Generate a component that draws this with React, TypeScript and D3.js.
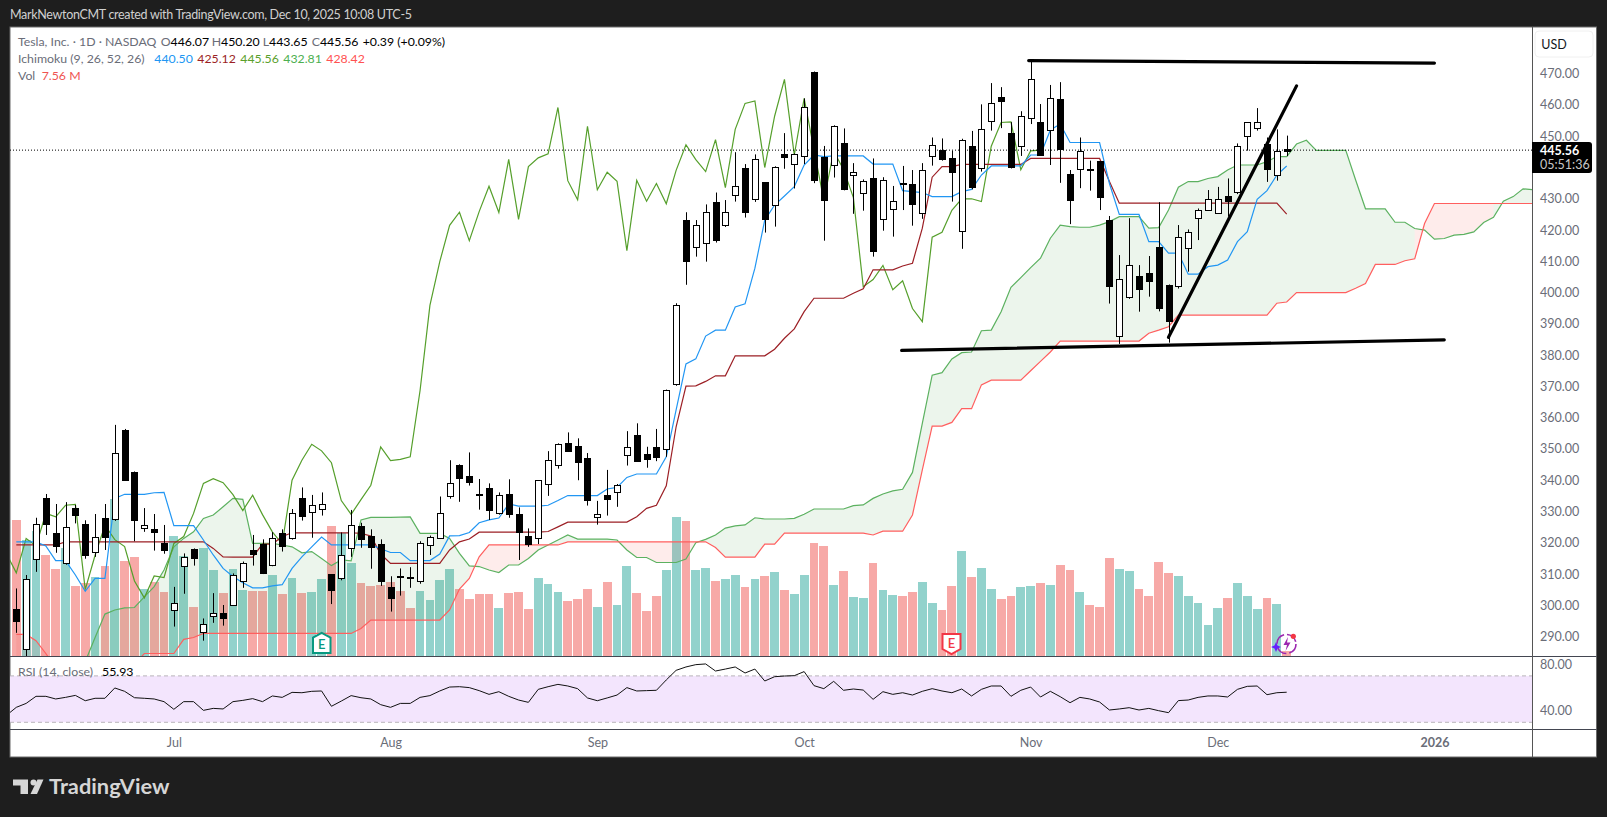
import * as d3 from "d3";
import { useEffect, useRef } from "react";

const W = 1607;
const H = 817;
const FONT = "Lato, 'Noto Sans', sans-serif";

// daily bars, Tesla, last one is Dec 10 2025
const opens = [
  298.7, 286, 314.7, 334.3, 323.1, 313.6, 331.1, 326, 317.2, 327.9,
  327.5, 356.1, 342.6, 324.5, 324.3, 319.8, 298.4, 312.4, 318, 291.3,
  296.8, 297.4, 300, 307.7, 317.7, 319.6, 312.8, 323, 321.4, 334.2,
  329.7, 330.7, 310, 308.6, 318.2, 325.3, 322.2, 319.5, 306, 309.5,
  309, 307.5, 319.5, 321.4, 334.8, 344.8, 341.2, 335.5, 337.4, 329.4,
  335.5, 329.1, 322.2, 321.4, 338.7, 344.8, 351.8, 350.8, 347, 328.1,
  335.2, 336.1, 348, 354.5, 348.4, 350.6, 349.9, 370.7, 423.1, 414.5,
  415.8, 428.9, 421.8, 431, 439.7, 429.8, 435.3, 428.2, 444.2, 441.3,
  443.6, 470.4, 443.3, 440.7, 447.7, 437.5, 431.7, 436.6, 423.4, 426.6,
  435, 434.7, 425.4, 443.9, 445.5, 443.2, 419.9, 446.8, 439.7, 454.8,
  462.5, 450.9, 446.7, 455.6, 454.4, 451.9, 461.8, 437.8, 439.4, 439.5,
  442, 423.1, 386, 398.5, 405.2, 406.2, 414.5, 402.3, 401.9, 414.2,
  423.7, 426.6, 425.4, 430.8, 432, 450, 452.8, 447.4, 437.5, 446.07,
];
const highs = [
  305.4, 309.7, 328, 335.6, 332.4, 333, 332.1, 327.2, 329.2, 332.4,
  357.7, 356.4, 342.8, 331.1, 329.2, 325.7, 305.9, 316.6, 318.2, 295.8,
  303.9, 300.1, 310.2, 314, 322.5, 321.1, 323.4, 324.3, 330.8, 337.7,
  335.3, 336.1, 310, 323.3, 330.5, 326.4, 324.3, 321.1, 309.3, 311.8,
  312.2, 320.5, 322.3, 334.8, 346.4, 345.1, 348.9, 340.4, 339, 336.1,
  340.3, 331.3, 324.6, 340, 349.3, 351.8, 355.3, 353.4, 348.7, 333.4,
  343.3, 338.8, 355.7, 358.2, 350.7, 356.4, 369, 396.6, 425.7, 423.2,
  428.2, 432, 429.6, 444.9, 441.1, 444.2, 435.3, 440.4, 451, 444.5,
  462.1, 470.7, 446.9, 453.5, 452.5, 441.4, 436.2, 442.9, 436.9, 434.1,
  440.5, 439.2, 441.4, 449.6, 449.3, 445.4, 449.2, 451.7, 460.2, 467,
  465.7, 454.5, 458, 474, 460.3, 466.4, 467.3, 439.2, 449.6, 442.2,
  442, 424.5, 412, 423.8, 408.8, 411.7, 428.9, 402.6, 421.6, 420.2,
  426.9, 432.8, 433.8, 436.5, 447.7, 454.4, 459, 449.6, 452.2, 450.2,
];
const lows = [
  291.2, 283.5, 310.7, 322.5, 316.8, 313, 326.2, 314.9, 315.5, 317.7,
  327, 340, 320.5, 323.5, 317.5, 316.5, 293.2, 303.7, 312.7, 288.7,
  294.4, 293.5, 300, 305.6, 312.7, 310, 312.5, 317.2, 321, 327.1,
  321.6, 328.7, 300.4, 308, 315.5, 318.4, 311.7, 306.2, 298, 303.1,
  305.6, 306.9, 316.1, 321.2, 334.1, 333.1, 338.3, 330.6, 327.3, 329,
  328, 314.5, 318.7, 319.6, 335, 343.7, 349.1, 340, 331.9, 325.8,
  328.7, 331.5, 344.7, 346, 344, 346.1, 347.5, 370.2, 402.5, 411.5,
  409.9, 416, 421, 429.1, 424, 429, 419.2, 421.1, 439.6, 433.3,
  441.1, 435, 416.6, 436.8, 432.7, 425.2, 426.2, 411.5, 419.8, 417.9,
  426.4, 421.4, 423.6, 440.6, 442.2, 429.1, 414, 433, 438.7, 451.8,
  452.6, 439.7, 443.7, 453.9, 443.7, 440.8, 435.1, 421.9, 433.4, 432.6,
  426.4, 396.5, 383.6, 398, 393.9, 398.7, 394, 384, 401.3, 406.7,
  416.8, 426.2, 425.2, 424.3, 431.5, 445.4, 451.8, 435.4, 435.8, 443.65,
];
const closes = [
  294.8, 308.3, 325.9, 326, 318.8, 325.2, 329, 316.2, 322, 321.9,
  348.6, 340.2, 327.4, 325.6, 323.2, 317.5, 300.6, 315.3, 315.2, 293.9,
  297.7, 295.7, 309.6, 313.4, 316.5, 310.4, 321.4, 319, 329.4, 328.3,
  332, 332.3, 305, 316, 325.6, 321, 318.8, 307.8, 302.4, 309.4,
  308.9, 319.8, 322, 329.4, 339, 340.5, 339.2, 335.4, 330.3, 335.2,
  329, 323.5, 319.6, 340, 346.4, 351.5, 349.4, 345.6, 333.5, 329.1,
  333.8, 338.4, 350.7, 346.3, 346.7, 347.5, 368.7, 395.9, 409.9, 421.5,
  425.7, 416.6, 425.9, 434, 425.6, 442.6, 423.4, 440.3, 443.1, 444.4,
  459.2, 435.8, 429.7, 453.2, 432.9, 438.5, 435.6, 413.4, 435.9, 429.2,
  434.9, 428.4, 439.1, 447.3, 442.5, 438.7, 448.9, 433.6, 452.2, 460.5,
  461.3, 440, 456.4, 468.2, 444, 462.1, 445.7, 429.4, 445.2, 439.4,
  430.4, 401.9, 404.2, 408.7, 400.9, 403.8, 394.9, 390.7, 417.7, 419.3,
  426.3, 430, 430, 429.1, 446.8, 454.4, 454.6, 439.3, 445.3, 445.56,
];
// volume in millions
const volumes = [
  204, 174, 187.5, 151.5, 130.5, 162, 105, 109.5, 118.5, 135,
  235.5, 142.5, 148.5, 100.5, 111, 96, 180, 150, 73.5, 162,
  129, 94.5, 130.5, 99, 97.5, 97.5, 121.5, 93, 117, 94.5,
  96, 115.5, 195, 184.5, 139.5, 109.5, 105, 106.5, 111, 97.5,
  72, 97.5, 84, 114, 130.5, 100.5, 85.5, 93, 93, 72,
  94.5, 96, 70.5, 117, 108, 96, 82.5, 85.5, 100.5, 73.5,
  111, 76.5, 135, 94.5, 67.5, 90, 129, 208.5, 202.5, 129,
  132, 112.5, 115.5, 121.5, 103.5, 115.5, 120, 126, 99, 93,
  121.5, 169.5, 165, 106.5, 127.5, 88.5, 87, 139.5, 99, 91.5,
  90, 96, 111, 79.5, 69, 105, 157.5, 118.5, 132, 100.5,
  85.5, 90, 103.5, 105, 109.5, 106.5, 136.5, 129, 96, 76.5,
  73.5, 147, 130.5, 127.5, 100.5, 90, 141, 124.5, 120, 90,
  79.5, 46.5, 72, 87, 109.5, 90, 70.5, 87, 78, 7.56,
];

// ichimoku
const conversion = [
  320.3, 320.3, 320.3, 319, 314.3, 314.3, 309.7, 304.5, 308.6, 308.6,
  334.2, 335.5, 335.5, 335.5, 336, 336.1, 325.5, 325.5, 325.5, 320.9,
  316.1, 311.8, 309.2, 307.2, 305.6, 305.6, 306.2, 306.6, 311.8, 315.5,
  318.7, 321.8, 319.3, 319.3, 319.3, 319.3, 319.3, 318.1, 316.9, 316.9,
  314.3, 314.3, 314.3, 316.4, 322.2, 322.3, 323.3, 326.4, 327.3, 327.9,
  332.4, 331.7, 331.7, 331.7, 332, 333.5, 335.1, 335.1, 335.1, 335.1,
  337.2, 337.7, 340.9, 342, 342, 342, 347.5, 362.5, 377.2, 378.8,
  386.1, 388, 388, 395.4, 396.4, 407.8, 423.2, 428, 430.9, 433.9,
  440.8, 444, 443.5, 443.7, 443.7, 443.7, 443.7, 441.1, 441.1, 441.1,
  432.6, 432.3, 432, 430.7, 430.7, 430.7, 432.3, 433, 437.6, 440.5,
  440.5, 440.5, 440.5, 444, 444, 452, 453.9, 448, 448, 448,
  448, 434.9, 425, 425, 425, 416.3, 416.3, 412.6, 412.6, 405.9,
  405.9, 408.3, 408.8, 410.4, 416.3, 419.5, 429.8, 432.6, 437.6, 440.5,
];
const baseLine = [
  319.3, 319.3, 319.3, 319.3, 319.3, 320.3, 320.3, 320.3, 320.3, 320.3,
  320.3, 320.3, 320.3, 320.3, 320.3, 320.3, 320.3, 320.3, 320.3, 320.3,
  318.2, 315.5, 315.4, 315.4, 315.4, 319.6, 319.6, 322, 323.2, 323.2,
  323.2, 323.2, 323.2, 323.2, 323.2, 323, 322.2, 316.4, 313.4, 313.4,
  313.4, 313.4, 313.4, 313.4, 317.7, 320.3, 321.2, 323.4, 323.4, 323.4,
  323.4, 323.4, 323.4, 323.4, 323.6, 325.1, 326.6, 326.6, 326.6, 326.6,
  326.6, 326.6, 326.6, 328.3, 331, 332, 338.2, 357.1, 370.1, 370.2,
  371.6, 373.4, 373.4, 379.8, 379.8, 379.8, 379.8, 381.9, 385.4, 388.4,
  393.9, 398.2, 398.2, 398.2, 398.2, 399.8, 401.2, 407.3, 407.3, 407.3,
  408.5, 409.4, 420.6, 436.9, 440.3, 440.3, 441, 441, 441, 441,
  441, 441, 441, 442.9, 442.9, 442.9, 442.9, 442.9, 442.9, 442.9,
  442.9, 435.5, 428.6, 428.6, 428.6, 428.6, 428.6, 428.6, 428.6, 428.6,
  428.6, 428.6, 428.6, 428.6, 428.6, 428.6, 428.6, 428.6, 428.6, 425.12,
];
const spanA = [
  276, 276, 276, 276, 276, 277, 279, 282, 289.7, 297.2,
  298.5, 299.2, 299.3, 302.7, 306, 311.3, 318.7, 321.4, 323.5, 327.8,
  328.9, 331.5, 334.2, 333.9, 319.8, 319.8, 319.8, 319.3, 318.7, 316.8,
  317.2, 315, 312.7, 314.5, 314.2, 327.3, 328.1, 328.1, 328.1, 328.2,
  328.3, 323, 323, 323, 321.4, 316.6, 312.6, 312.4, 311.3, 310.5,
  312.9, 312.9, 315, 317.7, 319.3, 320.9, 322.5, 321.2, 321.2, 321.2,
  321.2, 320.9, 317.7, 315.3, 315.3, 313.7, 313.7, 313.7, 314.8, 320,
  321.1, 322.5, 324.7, 325.4, 325.7, 328, 327.6, 327.6, 327.6, 327.8,
  329.1, 330.8, 330.8, 330.8, 330.8, 331.9, 332.1, 334.2, 335.6, 336.6,
  337.1, 342.5, 358.2, 373.6, 374.4, 378.8, 380.8, 381, 387.8, 388,
  393.9, 401.7, 404.8, 408, 411, 417.4, 421.6, 421.1, 420.9, 420.9,
  421.6, 422.7, 424.3, 424.3, 424.3, 420.6, 420.8, 426.4, 433.7, 435.5,
  435.5, 436.5, 437.1, 439.2, 440.8, 440.8, 440.8, 441.9, 443.5, 443.5,
  447.5, 448.7, 445.5, 445.5, 445.5, 445.5, 436, 426.8, 426.8, 426.8,
  422.5, 422.5, 420.5, 420, 417.1, 417.3, 418.4, 418.6, 419.4, 422.4,
  424.1, 429.2, 430.7, 433.2, 432.9,
];
const spanB = [
  290.7, 290.7, 288.7, 284.6, 280, 280, 280, 280, 280, 280,
  280, 280, 281, 284.6, 284.6, 284.6, 284.6, 289.1, 289.7, 291,
  291, 291, 291, 291, 291, 291, 291, 291, 291, 291,
  291, 291, 291, 291, 291, 292.6, 295.3, 295.3, 295.3, 295.3,
  295.3, 295.3, 295.3, 295.3, 298.5, 305.2, 308.6, 315.5, 319.3, 319.3,
  319.3, 319.3, 319.3, 319.3, 319.3, 319.3, 320.3, 320.3, 320.3, 320.3,
  320.3, 320.3, 320.3, 320.3, 320.3, 320.3, 320.3, 320.3, 320.3, 320.3,
  320.3, 318.5, 315.4, 315.4, 315.4, 315.4, 319.6, 319.6, 323.1, 323.1,
  323.1, 323.1, 323.1, 323.1, 323.1, 323.1, 323.1, 322.5, 323.7, 323.7,
  323.7, 328.9, 343.3, 357.3, 357.3, 358.5, 362.9, 362.9, 370.5, 372,
  372, 372, 372, 375, 378, 381, 384.5, 384.5, 384.5, 384.5,
  384.5, 384.5, 384.5, 384.5, 384.5, 387, 388, 389.1, 392.8, 392.8,
  392.8, 392.8, 392.8, 392.8, 392.8, 392.8, 392.8, 392.8, 396.6, 397,
  400, 400, 400, 400, 400, 400, 401.4, 402.9, 409, 409,
  409, 410.2, 410.8, 422.1, 428.5, 428.5, 428.5, 428.5, 428.5, 428.5,
  428.5, 428.5, 428.5, 428.5, 428.5,
];

// starts one bar before the first candle, the left edge cuts it
const rsi = [
  36, 42.9, 46.3, 52.4, 52.4, 50.1, 51.5, 53.2, 48.6, 50.7, 50.7,
  59.6, 56.7, 51.2, 50.7, 50.1, 47.8, 41.2, 47.8, 47.8, 40.3,
  42, 41.5, 47.8, 48.9, 50.4, 47.8, 52.7, 51.5, 55.8, 55.5,
  56.7, 57, 43.8, 48.3, 53, 51.2, 50.1, 45.2, 42.9, 46.3,
  46.3, 51.5, 53, 57, 60.4, 60.7, 59.9, 57.3, 54.1, 56.4,
  52.4, 49.2, 47.2, 58.4, 60.7, 62.7, 61.3, 59, 51, 48.6,
  51, 53.5, 59.9, 57, 57.3, 57.6, 66.5, 74.8, 77.7, 79.7,
  80.3, 74.2, 75.9, 77.7, 72.5, 75.9, 65.6, 69.3, 69.9, 70.2,
  73.7, 61.6, 59, 65.3, 57.6, 58.7, 57.8, 49.8, 56.4, 54.1,
  55.5, 53.5, 56.7, 59, 57, 55.5, 58.7, 52.7, 58.4, 61.3,
  61.3, 52.4, 57.6, 60.4, 51.8, 56.7, 52.1, 46.9, 51.5, 50.1,
  47.5, 40.6, 41.5, 42.6, 40.6, 42, 40, 38.3, 48.7, 49.2,
  51.5, 52.7, 52.7, 51.8, 58.4, 61, 61.3, 53.8, 55.5, 55.93,
];

// 440 sits behind the last price tag in the reference
const priceTicks = [
  290, 300, 310, 320, 330, 340, 350, 360, 370, 380,
  390, 400, 410, 420, 430, 450, 460, 470,
];
const rsiTicks = [40, 80];
const monthLabels = ["Jul", "Aug", "Sep", "Oct", "Nov", "Dec", "2026"];
const monthBars = [16, 38, 59, 80, 103, 122, 144];

// hand drawn lines: [bar, price] pairs
const trendLines: [number, number][][] = [
  [[102.8, 474.2], [144, 473.4]],
  [[89.9, 381.5], [145, 384.9]],
  [[117, 385.7], [130, 466.1]],
];

const headerText = "MarkNewtonCMT created with TradingView.com, Dec 10, 2025 10:08 UTC-5";
const ohlcItems: [string, string, number][] = [
  ["O", "446.07", 160.7],
  ["H", "450.20", 211.7],
  ["L", "443.65", 262.7],
  ["C", "445.56", 311.7],
];
const ichimokuValues: [string, string, number][] = [
  ["440.50", "#2196f3", 154.3],
  ["425.12", "#9c1f25", 197.3],
  ["445.56", "#5aa02c", 240.3],
  ["432.81", "#4caf50", 283.3],
  ["428.42", "#ff5252", 326.3],
];

export default function App() {
  const ref = useRef<SVGSVGElement>(null);

  useEffect(() => {
    const svg = d3.select(ref.current);
    svg.selectAll("*").remove();

    const left = 10;
    const right = 1532;
    const top = 27;
    const mainBottom = 656;
    const rsiBottom = 729;
    const bottom = 757;

    const x = d3.scaleLinear([0, 129], [16.3, 1286.7]);
    const y = d3.scaleLinear([290, 470], [636.6, 73.7]);
    const yVol = d3.scaleLinear([0, 150], [mainBottom, mainBottom - 100]);
    const yRsi = d3.scaleLinear([40, 80], [710.7, 664.3]);

    // page and panel
    svg.append("rect").attr("width", W).attr("height", H).attr("fill", "#1e1e1e");
    svg.append("rect")
      .attr("x", left).attr("y", top)
      .attr("width", 1596.5 - left).attr("height", bottom - top)
      .attr("fill", "#fff").attr("stroke", "#6b6b6b");

    svg.append("text")
      .attr("x", 10).attr("y", 19)
      .attr("fill", "#d0d0d0").attr("font-size", 12.5).attr("font-family", FONT)
      .attr("textLength", 402)
      .text(headerText);

    const defs = svg.append("defs");
    defs.append("clipPath").attr("id", "main-clip").append("rect")
      .attr("x", left).attr("y", top).attr("width", right - left).attr("height", mainBottom - top);
    defs.append("clipPath").attr("id", "rsi-clip").append("rect")
      .attr("x", left).attr("y", mainBottom).attr("width", right - left).attr("height", rsiBottom - mainBottom);

    const main = svg.append("g").attr("clip-path", "url(#main-clip)");

    // volume
    main.append("g").selectAll("rect").data(volumes).join("rect")
      .attr("x", (_, i) => Math.round(x(i) - 4.4))
      .attr("width", (_, i) => Math.round(x(i) + 4.4) - Math.round(x(i) - 4.4))
      .attr("y", (d) => yVol(d))
      .attr("height", (d) => mainBottom - yVol(d))
      .attr("fill", (_, i) => (closes[i] >= opens[i] ? "#92d2cc" : "#f7a9a7"))
      .attr("shape-rendering", "crispEdges");

    // cloud, runs of the same sign get one path
    const cloud = d3.area<number>()
      .x((i) => x(i))
      .y0((i) => y(spanA[i]))
      .y1((i) => y(spanB[i]));
    let run = [0];
    for (let i = 1; i < spanA.length; i++) {
      const up = spanA[i] >= spanB[i];
      run.push(i);
      const nextUp = i + 1 < spanA.length ? spanA[i + 1] >= spanB[i + 1] : !up;
      if (nextUp !== up) {
        main.append("path").attr("d", cloud(run))
          .attr("fill", up ? "rgba(67,160,71,0.1)" : "rgba(244,67,54,0.1)");
        run = [i];
      }
    }

    const drawLine = (values: number[], first: number, color: string) => {
      const line = d3.line<number>()
        .x((_, i) => x(i + first))
        .y((d) => y(d));
      main.append("path")
        .attr("d", line(values))
        .attr("fill", "none")
        .attr("stroke", color)
        .attr("stroke-width", 1.2);
    };
    drawLine(spanA, 0, "#5cb160");
    drawLine(spanB, 0, "#ff5f5f");
    drawLine(closes.slice(24), -1, "#559f2b"); // lagging span, closes moved back 25 bars
    drawLine(baseLine, 0, "#9c1f25");
    drawLine(conversion, 0, "#2196f3");

    // last price
    main.append("line")
      .attr("x1", left).attr("x2", right)
      .attr("y1", y(445.56)).attr("y2", y(445.56))
      .attr("stroke", "#000").attr("stroke-dasharray", "1 2");

    // candles
    const candles = main.append("g").selectAll("g").data(closes).join("g");
    candles.append("line")
      .attr("x1", (_, i) => Math.round(x(i)) + 0.5)
      .attr("x2", (_, i) => Math.round(x(i)) + 0.5)
      .attr("y1", (_, i) => y(highs[i]))
      .attr("y2", (_, i) => y(lows[i]))
      .attr("stroke", "#000");
    candles.append("rect")
      .attr("x", (_, i) => Math.round(x(i)) - 2.5)
      .attr("width", 6)
      .attr("y", (d, i) => Math.round(y(Math.max(d, opens[i]))) + 0.5)
      .attr("height", (d, i) => Math.max(1, Math.round(y(Math.min(d, opens[i])) - y(Math.max(d, opens[i])))))
      .attr("fill", (d, i) => (d >= opens[i] ? "#fff" : "#000"))
      .attr("stroke", "#000");

    // trend lines
    main.append("g").selectAll("path").data(trendLines).join("path")
      .attr("d", (d) => d3.line<[number, number]>().x((p) => x(p[0])).y((p) => y(p[1]))(d))
      .attr("fill", "none")
      .attr("stroke", "#000")
      .attr("stroke-width", 3.2)
      .attr("stroke-linecap", "round");

    // earnings flags
    const earnings = main.append("g").attr("font-family", FONT).attr("font-size", 13).attr("font-weight", 600);
    earnings.append("path")
      .attr("d", "M321.7 632.8 L330.5 637.5 L330.5 653 L313 653 L313 637.5 Z")
      .attr("fill", "#fff").attr("stroke", "#089981").attr("stroke-width", 2);
    earnings.append("text").attr("x", 321.7).attr("y", 648.5).attr("text-anchor", "middle").attr("fill", "#089981").text("E");
    earnings.append("path")
      .attr("d", "M942.5 634 L960.5 634 L960.5 649 L951.5 654 L942.5 649 Z")
      .attr("fill", "#fff").attr("stroke", "#f23645").attr("stroke-width", 2);
    earnings.append("text").attr("x", 951.5).attr("y", 647.5).attr("text-anchor", "middle").attr("fill", "#f23645").text("E");

    // the spark icon at the last bar
    const spark = main.append("g");
    spark.append("circle").attr("cx", 1286.5).attr("cy", 644).attr("r", 9.5)
      .attr("fill", "none").attr("stroke", "#9c27b0").attr("stroke-width", 1.6).attr("stroke-dasharray", "12 3");
    spark.append("path").attr("d", "M1288 637 L1283.5 645 L1287 645 L1285.5 651 L1290.5 642.5 L1287 642.5 Z").attr("fill", "#9c27b0");
    spark.append("path").attr("d", "M1276 642 L1277.5 645.5 L1281 647 L1277.5 648.5 L1276 652 L1274.5 648.5 L1271 647 L1274.5 645.5 Z").attr("fill", "#651fff");
    spark.append("circle").attr("cx", 1293.3).attr("cy", 636.3).attr("r", 2.6).attr("fill", "#f23645");

    // rsi pane
    const rsiG = svg.append("g").attr("clip-path", "url(#rsi-clip)");
    rsiG.append("rect")
      .attr("x", left).attr("width", right - left)
      .attr("y", yRsi(70)).attr("height", yRsi(30) - yRsi(70))
      .attr("fill", "#f3e5fd");
    rsiG.selectAll("line").data([70, 30]).join("line")
      .attr("x1", left).attr("x2", right)
      .attr("y1", (d) => yRsi(d)).attr("y2", (d) => yRsi(d))
      .attr("stroke", "#b8b4bb").attr("stroke-dasharray", "4 3");
    rsiG.append("path")
      .attr("d", d3.line<number>().x((_, i) => x(i - 1)).y((d) => yRsi(d))(rsi))
      .attr("fill", "none").attr("stroke", "#111").attr("stroke-width", 1);

    // separators
    svg.append("g").selectAll("line").data([mainBottom, rsiBottom]).join("line")
      .attr("x1", left).attr("x2", 1596.5)
      .attr("y1", (d) => d + 0.5).attr("y2", (d) => d + 0.5)
      .attr("stroke", "#434651").attr("stroke-width", 1.2);
    svg.append("line")
      .attr("x1", right + 0.5).attr("x2", right + 0.5)
      .attr("y1", top).attr("y2", bottom)
      .attr("stroke", "#555");

    // axes
    const styleAxis = (g: d3.Selection<SVGGElement, unknown, null, undefined>) => {
      g.select(".domain").remove();
      g.selectAll(".tick line").remove();
      g.selectAll("text")
        .attr("fill", "#6a6d78")
        .attr("font-size", 12.5)
        .attr("font-family", FONT);
    };
    svg.append("g")
      .attr("transform", `translate(${right},0)`)
      .call(d3.axisRight(y).tickValues(priceTicks).tickSize(0).tickFormat((d) => d3.format(".2f")(d as number)).tickPadding(8))
      .call(styleAxis);
    svg.append("g")
      .attr("transform", `translate(${right},0)`)
      .call(d3.axisRight(yRsi).tickValues(rsiTicks).tickSize(0).tickFormat((d) => d3.format(".2f")(d as number)).tickPadding(8))
      .call(styleAxis);
    svg.append("g")
      .attr("transform", `translate(0,${rsiBottom})`)
      .call(
        d3.axisBottom(x)
          .tickValues(monthBars)
          .tickSize(0)
          .tickPadding(9.6)
          .tickFormat((_, i) => monthLabels[i])
      )
      .call(styleAxis)
      .selectAll("text")
      .attr("font-weight", (_, i) => (monthLabels[i] === "2026" ? 700 : 400));

    // usd button
    svg.append("rect")
      .attr("x", 1535).attr("y", 31).attr("width", 58).attr("height", 26).attr("rx", 4)
      .attr("fill", "#fff").attr("stroke", "#f0f0f0");
    svg.append("text")
      .attr("x", 1554).attr("y", 48.5).attr("text-anchor", "middle")
      .attr("font-family", FONT).attr("font-size", 12.5).attr("fill", "#131722")
      .text("USD");

    // last price tag
    svg.append("path")
      .attr("d", "M1532 142 H1589 a3 3 0 0 1 3 3 V170 a3 3 0 0 1 -3 3 H1532 Z")
      .attr("fill", "#000");
    svg.append("text")
      .attr("x", 1540).attr("y", 155)
      .attr("font-family", FONT).attr("font-size", 12.5).attr("font-weight", 700).attr("fill", "#fff")
      .text("445.56");
    svg.append("text")
      .attr("x", 1540).attr("y", 169)
      .attr("font-family", FONT).attr("font-size", 12.5).attr("fill", "#c8c8c8")
      .text("05:51:36");

    // legends
    const legend = svg.append("g").attr("font-family", FONT).attr("font-size", 12.3);
    const put = (tx: number, ty: number, s: string, fill: string) =>
      legend.append("text").attr("x", tx).attr("y", ty).attr("fill", fill).text(s);
    const grey = "#6a6d78";
    put(18, 46, "Tesla, Inc. · 1D · NASDAQ", grey);
    ohlcItems.forEach(([k, v, tx]) => {
      const t = put(tx, 46, k, grey);
      t.append("tspan").attr("fill", "#000").text(v);
    });
    put(362.7, 46, "+0.39 (+0.09%)", "#000");
    put(18, 63, "Ichimoku (9, 26, 52, 26)", grey);
    ichimokuValues.forEach(([v, c, tx]) => put(tx, 63, v, c));
    put(18, 80, "Vol", grey);
    put(41.7, 80, "7.56 M", "#ef5350");
    put(18, 676, "RSI (14, close)", grey);
    put(102, 676, "55.93", "#000");

    // tradingview logo
    const logo = svg.append("g").attr("fill", "#d6d6d6");
    logo.append("path").attr("d", "M13 779.5 H28 V794 H20.5 V785.5 H13 Z");
    logo.append("circle").attr("cx", 33.5).attr("cy", 782.5).attr("r", 3);
    logo.append("path").attr("d", "M37.5 779.5 H43.5 L37 794 H30.5 Z");
    svg.append("text")
      .attr("x", 49).attr("y", 794)
      .attr("font-family", FONT).attr("font-size", 21.8).attr("font-weight", 700).attr("fill", "#d6d6d6")
      .text("TradingView");
  }, []);

  return (
    <>
      <style>{"body{margin:0;background:#1e1e1e}"}</style>
      <svg ref={ref} width={W} height={H} style={{ display: "block" }} />
    </>
  );
}
